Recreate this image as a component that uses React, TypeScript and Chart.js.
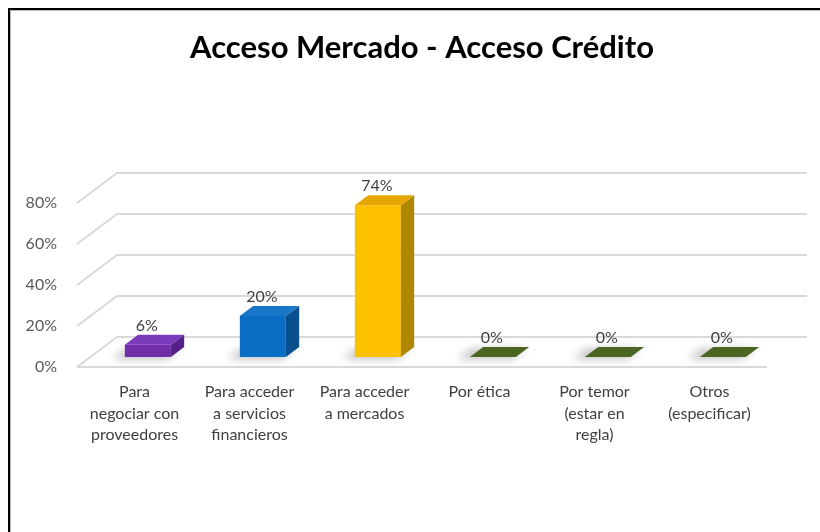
import React, { useEffect, useRef } from "react";
import { Chart, registerables } from "chart.js";

Chart.register(...registerables);

const chartTitle = "Acceso Mercado - Acceso Crédito";
const categories: string[][] = [
  ["Para", "negociar con", "proveedores"],
  ["Para acceder", "a servicios", "financieros"],
  ["Para acceder", "a mercados"],
  ["Por ética"],
  ["Por temor", "(estar en", "regla)"],
  ["Otros", "(especificar)"],
];
const values = [0.06, 0.2, 0.74, 0, 0, 0];
const yTicks = [0, 0.2, 0.4, 0.6, 0.8];
const frontColors = ["#6F2DA8", "#0A6EC4", "#FFC000", "#4F6B24", "#4F6B24", "#4F6B24"];
const topColors = ["#7A3BBA", "#1876C8", "#E6A800", "#4B6622", "#4B6622", "#4B6622"];
const sideColors = ["#55208A", "#0A4F8E", "#B08700", "#3B5219", "#3B5219", "#3B5219"];

// 3D geometry (pixels)
const WALL_DX = 40;
const WALL_DY = -30;
const BAR_DX = WALL_DX / 3;
const BAR_DY = WALL_DY / 3;

const pct = (v: number) => `${Math.round(v * 100)}%`;

const threeD = {
  id: "threeD",
  beforeDatasetsDraw(chart: any) {
    const { ctx, chartArea: a, scales } = chart;
    const y = scales.y;
    ctx.save();
    ctx.strokeStyle = "#D9D9D9";
    ctx.lineWidth = 2;
    for (const t of yTicks) {
      const py = y.getPixelForValue(t);
      ctx.beginPath();
      ctx.moveTo(a.left, py);
      ctx.lineTo(a.left + WALL_DX, py + WALL_DY);
      ctx.lineTo(a.right + WALL_DX, py + WALL_DY);
      ctx.stroke();
    }
    const p0 = y.getPixelForValue(0);
    ctx.beginPath();
    ctx.moveTo(a.left, p0);
    ctx.lineTo(a.right, p0);
    ctx.stroke();

    // soft shadows on the floor
    const meta = chart.getDatasetMeta(0);
    ctx.filter = "blur(4px)";
    ctx.fillStyle = "rgba(0,0,0,0.25)";
    meta.data.forEach((bar: any) => {
      const { x, width, base } = bar.getProps(["x", "width", "base"], true);
      const l = x - width / 2 + BAR_DX - 12;
      const r = x + width / 2 + BAR_DX - 4;
      const b = base + BAR_DY + 2;
      ctx.beginPath();
      ctx.moveTo(l, b);
      ctx.lineTo(r, b);
      ctx.lineTo(r + BAR_DX, b + BAR_DY);
      ctx.lineTo(l + BAR_DX, b + BAR_DY);
      ctx.closePath();
      ctx.fill();
    });
    ctx.restore();
  },
  beforeDatasetDraw(chart: any) {
    chart.ctx.save();
    chart.ctx.translate(BAR_DX, BAR_DY);
  },
  afterDatasetDraw(chart: any) {
    const { ctx } = chart;
    ctx.restore();
    const meta = chart.getDatasetMeta(0);
    ctx.save();
    meta.data.forEach((bar: any, i: number) => {
      const { x, y, width, base } = bar.getProps(["x", "y", "width", "base"], true);
      const l = x - width / 2 + BAR_DX;
      const r = x + width / 2 + BAR_DX;
      const t = y + BAR_DY;
      const b = base + BAR_DY;
      // side face
      if (b - t > 0.5) {
        ctx.fillStyle = sideColors[i];
        ctx.beginPath();
        ctx.moveTo(r, t);
        ctx.lineTo(r + BAR_DX, t + BAR_DY);
        ctx.lineTo(r + BAR_DX, b + BAR_DY);
        ctx.lineTo(r, b);
        ctx.closePath();
        ctx.fill();
      }
      // top face
      ctx.fillStyle = topColors[i];
      ctx.beginPath();
      ctx.moveTo(l, t);
      ctx.lineTo(r, t);
      ctx.lineTo(r + BAR_DX, t + BAR_DY);
      ctx.lineTo(l + BAR_DX, t + BAR_DY);
      ctx.closePath();
      ctx.fill();
      // value label
      ctx.fillStyle = "#404040";
      ctx.font = "16px Lato";
      ctx.textAlign = "center";
      ctx.textBaseline = "middle";
      ctx.fillText(pct(values[i]), x + BAR_DX - 1, t - 19);
    });
    ctx.restore();
  },
};

export default function App() {
  const ref = useRef<HTMLCanvasElement>(null);
  useEffect(() => {
    if (!ref.current) return;
    Chart.defaults.font.family = "Lato";
    const chart = new Chart(ref.current, {
      type: "bar",
      data: {
        labels: categories,
        datasets: [
          {
            data: values,
            backgroundColor: frontColors,
            borderWidth: 0,
            barPercentage: 0.4,
            categoryPercentage: 1,
            clip: false as any,
          },
        ],
      },
      options: {
        responsive: false,
        animation: false,
        devicePixelRatio: 1,
        layout: { padding: { left: 0, right: 53, top: 0, bottom: 0 } },
        plugins: {
          legend: { display: false },
          tooltip: { enabled: false },
          title: {
            display: true,
            fullSize: false,
            text: chartTitle,
            color: "#000000",
            font: { size: 31, weight: "bold", family: "Lato", lineHeight: 1.2 },
            padding: { top: 29, bottom: 136.8 },
          },
        },
        scales: {
          x: {
            grid: { display: false, drawTicks: false },
            border: { display: false },
            ticks: {
              color: "#404040",
              font: { size: 16, lineHeight: 1.35 },
              padding: 14,
              maxRotation: 0,
              autoSkip: false,
            },
            afterFit: (s: any) => {
              s.height = 165;
            },
          },
          y: {
            min: 0,
            max: 0.8,
            grid: { display: false, drawTicks: false },
            border: { display: false },
            ticks: {
              stepSize: 0.2,
              color: "#595959",
              font: { size: 16 },
              padding: 20,
              callback: (v: any) => pct(Number(v)),
            },
            afterFit: (s: any) => {
              s.width = 77;
            },
          },
        },
      },
      plugins: [threeD],
    });
    return () => chart.destroy();
  }, []);

  return (
    <div
      style={{
        position: "fixed",
        left: 0,
        top: 0,
        width: 820,
        height: 532,
        overflow: "hidden",
        background: "#ffffff",
      }}
    >
      <div
        style={{
          position: "absolute",
          left: 8,
          top: 8,
          width: 900,
          height: 600,
          borderTop: "2px solid #000",
          borderLeft: "2px solid #000",
          boxShadow: "inset 1px 1px 0 #bbbbbb",
        }}
      />
      <canvas
        ref={ref}
        width={820}
        height={532}
        style={{ position: "absolute", left: 0, top: 0, width: 820, height: 532 }}
      />
    </div>
  );
}
